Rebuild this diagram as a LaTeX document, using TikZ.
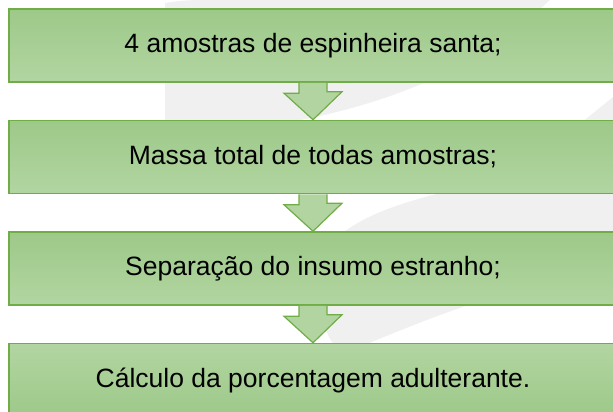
\documentclass[tikz,border=0pt]{standalone}
\usepackage{fontspec}
\setmainfont{Liberation Sans}
\usepackage{xcolor}
\usetikzlibrary{shapes}
\definecolor{gruenrand}{RGB}{112,173,71}
\definecolor{gruenoben}{RGB}{157,201,137}
\definecolor{gruenunten}{RGB}{178,213,161}
\definecolor{gruenpfeil}{RGB}{177,212,160}
\definecolor{wasserzeichen}{RGB}{240,240,240}
\tikzset{
	kasten/.style={draw=gruenrand, line width=1.5pt, minimum width=608pt, minimum height=73pt, top color=gruenoben, bottom color=gruenunten, text=black},
	pfeil/.style={draw=gruenrand, line width=1.2pt, fill=gruenpfeil, line join=miter}
}
\begin{document}
\begin{tikzpicture}[x=1pt, y=-1pt, every node/.style={font=\fontsize{26.5}{30}\selectfont}]
		\useasboundingbox (0,0) rectangle (613,412);
		\clip (0,0) rectangle (613,412);
		%
		%Wasserzeichen
		\fill[wasserzeichen] (165,3) .. controls (185,0) .. (230,0) -- (550,0) -- (505,40)
		.. controls (420,95) and (330,118) .. (250,128) -- (165,140) -- cycle;
		\fill[wasserzeichen] (660,55) -- (613,97) -- (560,140) -- (660,140) -- cycle;
		\fill[wasserzeichen] (660,150) -- (490,182) .. controls (400,200) and (330,222) .. (322,265)
		-- (322,300) .. controls (323,332) and (330,348) .. (348,352)
		.. controls (400,330) and (445,312) .. (490,298) -- (660,260) -- cycle;
		%
		%Kasten 1
		\node (b1) at (313,45.5) [kasten] {4 amostras de espinheira santa;};
		%
		%Kasten 2
		\node (b2) at (313,157) [kasten] {Massa total de todas amostras;};
		%
		%Kasten 3
		\node (b3) at (313,268.5) [kasten] {Separação do insumo estranho;};
		%
		%Kasten 4
		\node (b4) at (313,380) [kasten, top color=gruenunten, bottom color=gruenoben] {Cálculo da porcentagem adulterante.};
		%
		%Pfeil Kasten 1 - Kasten 2
		\filldraw[pfeil] ([xshift=-14pt]b1.south) -- ++(0,10.5) -- ++(-15,0) -- (b2.north) -- ++(29,-28) -- ++(-15,0) -- ([xshift=14pt]b1.south);
		%
		%Pfeil Kasten 2 - Kasten 3
		\filldraw[pfeil] ([xshift=-14pt]b2.south) -- ++(0,10.5) -- ++(-15,0) -- (b3.north) -- ++(29,-28) -- ++(-15,0) -- ([xshift=14pt]b2.south);
		%
		%Pfeil Kasten 3 - Kasten 4
		\filldraw[pfeil] ([xshift=-14pt]b3.south) -- ++(0,10.5) -- ++(-15,0) -- (b4.north) -- ++(29,-28) -- ++(-15,0) -- ([xshift=14pt]b3.south);
\end{tikzpicture}
\end{document}
